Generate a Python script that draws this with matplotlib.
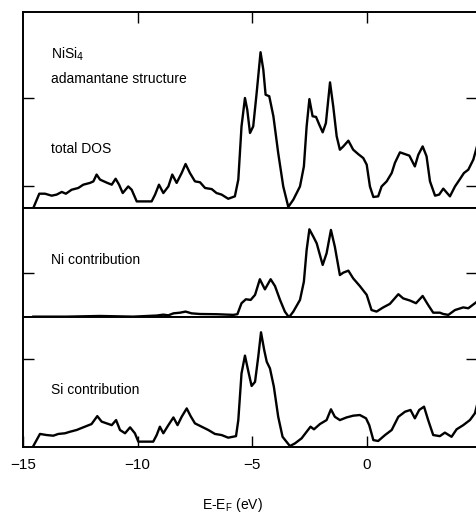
import matplotlib
matplotlib.use("Agg")
import matplotlib.pyplot as plt

plt.rcParams['font.family'] = ['Liberation Sans', 'DejaVu Sans']

# ---- data ----
E_total = [-14.55, -14.29, -14.04, -13.75, -13.53, -13.31, -13.13, -12.88, -12.59, -12.37,
           -12.08, -11.93, -11.79, -11.64, -11.47, -11.32, -11.13, -10.96, -10.81, -10.65,
           -10.41, -10.26, -10.04, -9.83, -9.39, -9.24, -9.07, -8.88, -8.66, -8.49,
           -8.30, -8.08, -7.91, -7.72, -7.50, -7.28, -7.06, -6.77, -6.56, -6.34,
           -6.05, -5.76, -5.61, -5.47, -5.32, -5.22, -5.10, -4.96, -4.81, -4.64,
           -4.52, -4.42, -4.26, -4.08, -3.87, -3.65, -3.43, -3.21, -2.92, -2.75,
           -2.63, -2.51, -2.37, -2.22, -2.08, -1.93, -1.79, -1.61, -1.47, -1.32,
           -1.18, -1.03, -0.81, -0.60, -0.38, -0.16, -0.01, 0.13, 0.28, 0.49,
           0.64, 0.86, 1.08, 1.22, 1.44, 1.66, 1.85, 2.09, 2.24, 2.43,
           2.60, 2.75, 2.97, 3.15, 3.33, 3.62, 3.84, 4.06, 4.23, 4.42,
           4.64, 4.80]
dos_total = [0.00, 0.65, 0.65, 0.56, 0.61, 0.73, 0.65, 0.83, 0.91, 1.06,
             1.14, 1.21, 1.52, 1.29, 1.21, 1.14, 1.06, 1.33, 1.06, 0.68,
             0.98, 0.83, 0.30, 0.30, 0.30, 0.61, 1.06, 0.68, 0.98, 1.52,
             1.14, 1.59, 2.00, 1.59, 1.21, 1.17, 0.91, 0.86, 0.68, 0.61,
             0.42, 0.53, 1.29, 3.71, 5.00, 4.47, 3.41, 3.71, 5.23, 7.08,
             6.29, 5.15, 5.08, 4.17, 2.50, 0.98, 0.05, 0.38, 0.98, 1.89,
             3.71, 4.95, 4.17, 4.14, 3.79, 3.44, 3.86, 5.71, 4.62, 3.26,
             2.65, 2.80, 3.06, 2.65, 2.45, 2.27, 1.97, 0.98, 0.50, 0.53,
             0.98, 1.21, 1.59, 2.05, 2.53, 2.45, 2.38, 1.89, 2.42, 2.80,
             2.35, 1.21, 0.56, 0.61, 0.88, 0.53, 0.98, 1.32, 1.59, 1.74,
             2.20, 2.80]

E_ni = [-14.55, -13.10, -11.64, -10.19, -9.17, -8.88, -8.66, -8.44, -8.15, -7.91,
        -7.65, -7.28, -6.56, -5.83, -5.65, -5.47, -5.28, -5.07, -4.88, -4.67,
        -4.45, -4.20, -4.01, -3.79, -3.58, -3.40, -3.21, -2.92, -2.75, -2.63,
        -2.51, -2.34, -2.19, -2.05, -1.93, -1.76, -1.57, -1.40, -1.18, -1.03,
        -0.81, -0.60, -0.31, -0.01, 0.20, 0.42, 0.71, 1.00, 1.37, 1.58,
        1.88, 2.14, 2.43, 2.67, 2.89, 3.18, 3.33, 3.55, 3.84, 4.20,
        4.42, 4.80]
dos_ni = [0.03, 0.03, 0.06, 0.03, 0.08, 0.12, 0.09, 0.18, 0.21, 0.26,
          0.18, 0.15, 0.14, 0.11, 0.14, 0.64, 0.82, 0.79, 1.02, 1.73,
          1.27, 1.73, 1.42, 0.79, 0.26, 0.00, 0.26, 0.79, 1.62, 3.06,
          4.00, 3.67, 3.36, 2.83, 2.38, 2.91, 3.97, 3.21, 1.92, 2.03,
          2.12, 1.77, 1.42, 1.02, 0.33, 0.26, 0.45, 0.61, 1.05, 0.86,
          0.76, 0.64, 0.97, 0.56, 0.21, 0.21, 0.15, 0.11, 0.33, 0.45,
          0.41, 0.71]

E_si = [-14.55, -14.26, -13.97, -13.68, -13.46, -13.17, -12.95, -12.66, -12.30, -12.01,
        -11.76, -11.57, -11.35, -11.13, -10.94, -10.77, -10.55, -10.33, -10.12, -9.97,
        -9.68, -9.32, -9.17, -9.03, -8.88, -8.66, -8.44, -8.26, -8.08, -7.86,
        -7.69, -7.50, -7.21, -6.92, -6.63, -6.34, -6.05, -5.71, -5.61, -5.47,
        -5.32, -5.17, -5.03, -4.88, -4.74, -4.62, -4.48, -4.37, -4.23, -4.06,
        -3.87, -3.68, -3.36, -3.14, -2.85, -2.63, -2.46, -2.31, -2.05, -1.76,
        -1.57, -1.40, -1.18, -0.89, -0.60, -0.31, -0.04, 0.10, 0.28, 0.49,
        0.79, 1.08, 1.37, 1.66, 1.90, 2.09, 2.28, 2.49, 2.67, 2.89,
        3.18, 3.40, 3.69, 3.91, 4.20, 4.49, 4.71, 4.80]
dos_si = [0.03, 0.58, 0.53, 0.50, 0.58, 0.61, 0.68, 0.76, 0.91, 1.03,
          1.39, 1.14, 1.06, 0.98, 1.21, 0.76, 0.61, 0.88, 0.61, 0.23,
          0.23, 0.23, 0.53, 0.91, 0.61, 0.98, 1.33, 0.98, 1.36, 1.74,
          1.39, 1.06, 0.91, 0.76, 0.58, 0.53, 0.41, 0.48, 1.21, 3.33,
          4.14, 3.41, 2.76, 2.95, 4.09, 5.20, 4.39, 3.86, 3.56, 2.73,
          1.36, 0.45, 0.03, 0.15, 0.38, 0.68, 0.91, 0.79, 1.03, 1.21,
          1.70, 1.36, 1.21, 1.33, 1.41, 1.44, 1.29, 0.98, 0.30, 0.26,
          0.53, 0.76, 1.36, 1.59, 1.67, 1.29, 1.67, 1.82, 1.21, 0.53,
          0.48, 0.64, 0.45, 0.79, 0.98, 1.21, 1.52, 1.89]

xtick_vals = [-15, -10, -5, 0]
yticks_total = [1, 5]
yticks_ni = [2]
yticks_si = [4]

W, H = 477, 514
fig = plt.figure(figsize=(W / 100, H / 100), dpi=100)

left = 23 / W
right = 1.0
px = lambda y: 1 - y / H
bounds = [(11.7, 208.0), (208.0, 317.3), (317.3, 446.7)]
unit = 22.0  # px per DOS unit
lw_sp = 1.4
tick_len = 8

axes = []
for (ytop, ybot) in bounds:
    ax = fig.add_axes([left, px(ybot), right - left, (ybot - ytop) / H])
    ax.set_xlim(-15, 4.8)
    ax.set_ylim(0, (ybot - ytop) / unit)
    for s in ['top', 'bottom', 'left']:
        ax.spines[s].set_linewidth(lw_sp)
    ax.spines['right'].set_visible(False)
    ax.tick_params(axis='y', direction='in', left=True, right=True, length=tick_len,
                   width=1.0, labelleft=False)
    axes.append(ax)

ax1, ax2, ax3 = axes
ax1.plot(E_total, dos_total, color='black', lw=1.7, solid_joinstyle='round')
ax2.plot(E_ni, dos_ni, color='black', lw=1.7, solid_joinstyle='round')
ax3.plot(E_si, dos_si, color='black', lw=1.7, solid_joinstyle='round')

ax1.set_yticks(yticks_total)
ax2.set_yticks(yticks_ni)
ax3.set_yticks(yticks_si)

# x ticks
ax1.set_xticks(xtick_vals[1:])
ax1.tick_params(axis='x', direction='in', top=True, bottom=False, labeltop=False,
                labelbottom=False, length=tick_len, width=1.0)
ax2.set_xticks([])
ax2.tick_params(axis='x', bottom=False, top=False)
ax3.set_xticks(xtick_vals)
ax3.set_xticklabels([f"{v}".replace('-', '\u2212') for v in xtick_vals])
ax3.tick_params(axis='x', direction='in', top=False, bottom=True, length=tick_len,
                width=1.0, labelsize=11, pad=8)

fs = 10
ax1.text(-13.8, 7.0, 'NiSi$_4$', fontsize=fs, va='center', ha='left')
ax1.text(-13.8, 5.85, 'adamantane structure', fontsize=fs, va='center', ha='left')
ax1.text(-13.8, 2.7, 'total DOS', fontsize=fs, va='center', ha='left')
ax2.text(-13.8, 2.6, 'Ni contribution', fontsize=fs, va='center', ha='left')
ax3.text(-13.8, 2.6, 'Si contribution', fontsize=fs, va='center', ha='left')

fig.text(232 / W, px(505), 'E-E$_\\mathregular{F}$ (eV)', fontsize=fs, ha='center', va='center')

fig.savefig('out.png', dpi=100)
